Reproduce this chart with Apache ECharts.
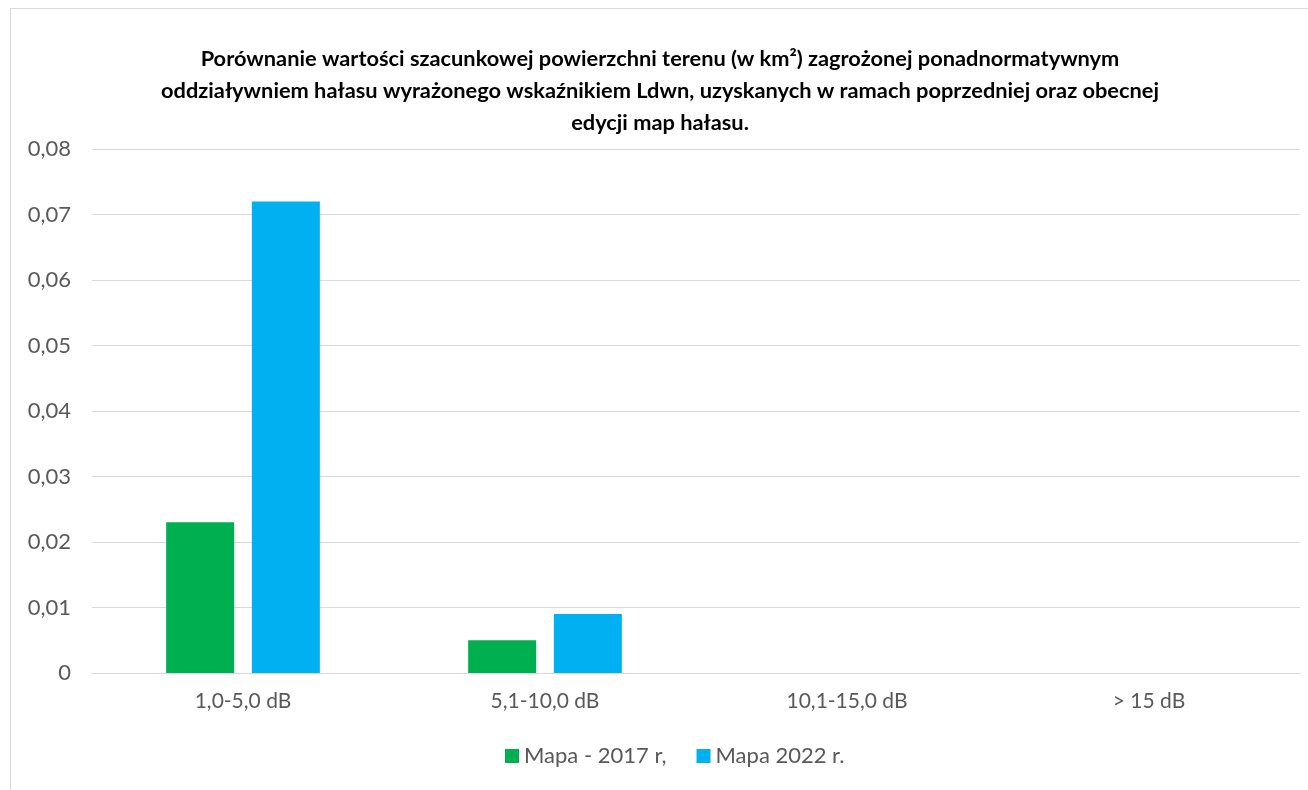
<!DOCTYPE html>
<html>
<head>
<meta charset="utf-8">
<script src="https://cdn.jsdelivr.net/npm/echarts@6/dist/echarts.min.js"></script>
<style>
  html, body { margin: 0; padding: 0; background: #fff; }
  #frame { position: absolute; left: 10px; top: 8px; width: 1320px; height: 820px; border: 1px solid #d9d9d9; box-sizing: border-box; }
  #chart { position: absolute; left: 0; top: 0; width: 1308px; height: 790px; }
</style>
</head>
<body>
<div id="frame"></div>
<div id="chart"></div>
<script>
// Noise-exposure ranges (Ldwn excess)
const categories = ['1,0-5,0 dB', '5,1-10,0 dB', '10,1-15,0 dB', '> 15 dB'];
// Area in km² per edition of the noise maps
const map2017 = [0.023, 0.005, 0, 0];
const map2022 = [0.072, 0.009, 0, 0];
const seriesNames = ['Mapa - 2017 r,', 'Mapa 2022 r.'];

const titleText = 'Porównanie wartości szacunkowej powierzchni terenu (w km²) zagrożonej ponadnormatywnym\n' +
  'oddziaływniem hałasu wyrażonego wskaźnikiem Ldwn, uzyskanych w ramach poprzedniej oraz obecnej\n' +
  'edycji map hałasu.';

const FONT = 'Lato, "Open Sans", sans-serif';

const chart = echarts.init(document.getElementById('chart'));
chart.setOption({
  animation: false,
  textStyle: { fontFamily: FONT },
  title: {
    text: titleText,
    left: 655,
    textAlign: 'center',
    top: 38,
    textStyle: { fontFamily: FONT, fontSize: 21.8, fontWeight: 'bold', color: '#000', lineHeight: 32 }
  },
  legend: {
    data: seriesNames,
    left: 500,
    top: 740,
    itemWidth: 14,
    itemHeight: 14,
    itemGap: 30,
    icon: 'rect',
    textStyle: { fontFamily: FONT, fontSize: 22, color: '#595959' }
  },
  grid: { left: 92, right: 8, top: 149, bottom: 117, containLabel: false },
  xAxis: {
    type: 'category',
    data: categories,
    axisLine: { lineStyle: { color: '#d9d9d9', width: 1 } },
    axisTick: { show: false },
    axisLabel: { color: '#595959', fontSize: 21, margin: 18, fontFamily: FONT }
  },
  yAxis: {
    type: 'value',
    min: 0,
    max: 0.08,
    interval: 0.01,
    axisLine: { show: false },
    axisTick: { show: false },
    splitLine: { lineStyle: { color: '#d9d9d9', width: 1 } },
    axisLabel: {
      color: '#595959', fontSize: 22, margin: 21, fontFamily: FONT,
      formatter: v => v === 0 ? '0' : v.toFixed(2).replace('.', ',')
    }
  },
  series: [
    { name: seriesNames[0], type: 'bar', data: map2017, barWidth: 68, barGap: '26%', itemStyle: { color: '#00b050' } },
    { name: seriesNames[1], type: 'bar', data: map2022, barWidth: 68, barGap: '26%', itemStyle: { color: '#00b0f0' } }
  ]
});
</script>
</body>
</html>
